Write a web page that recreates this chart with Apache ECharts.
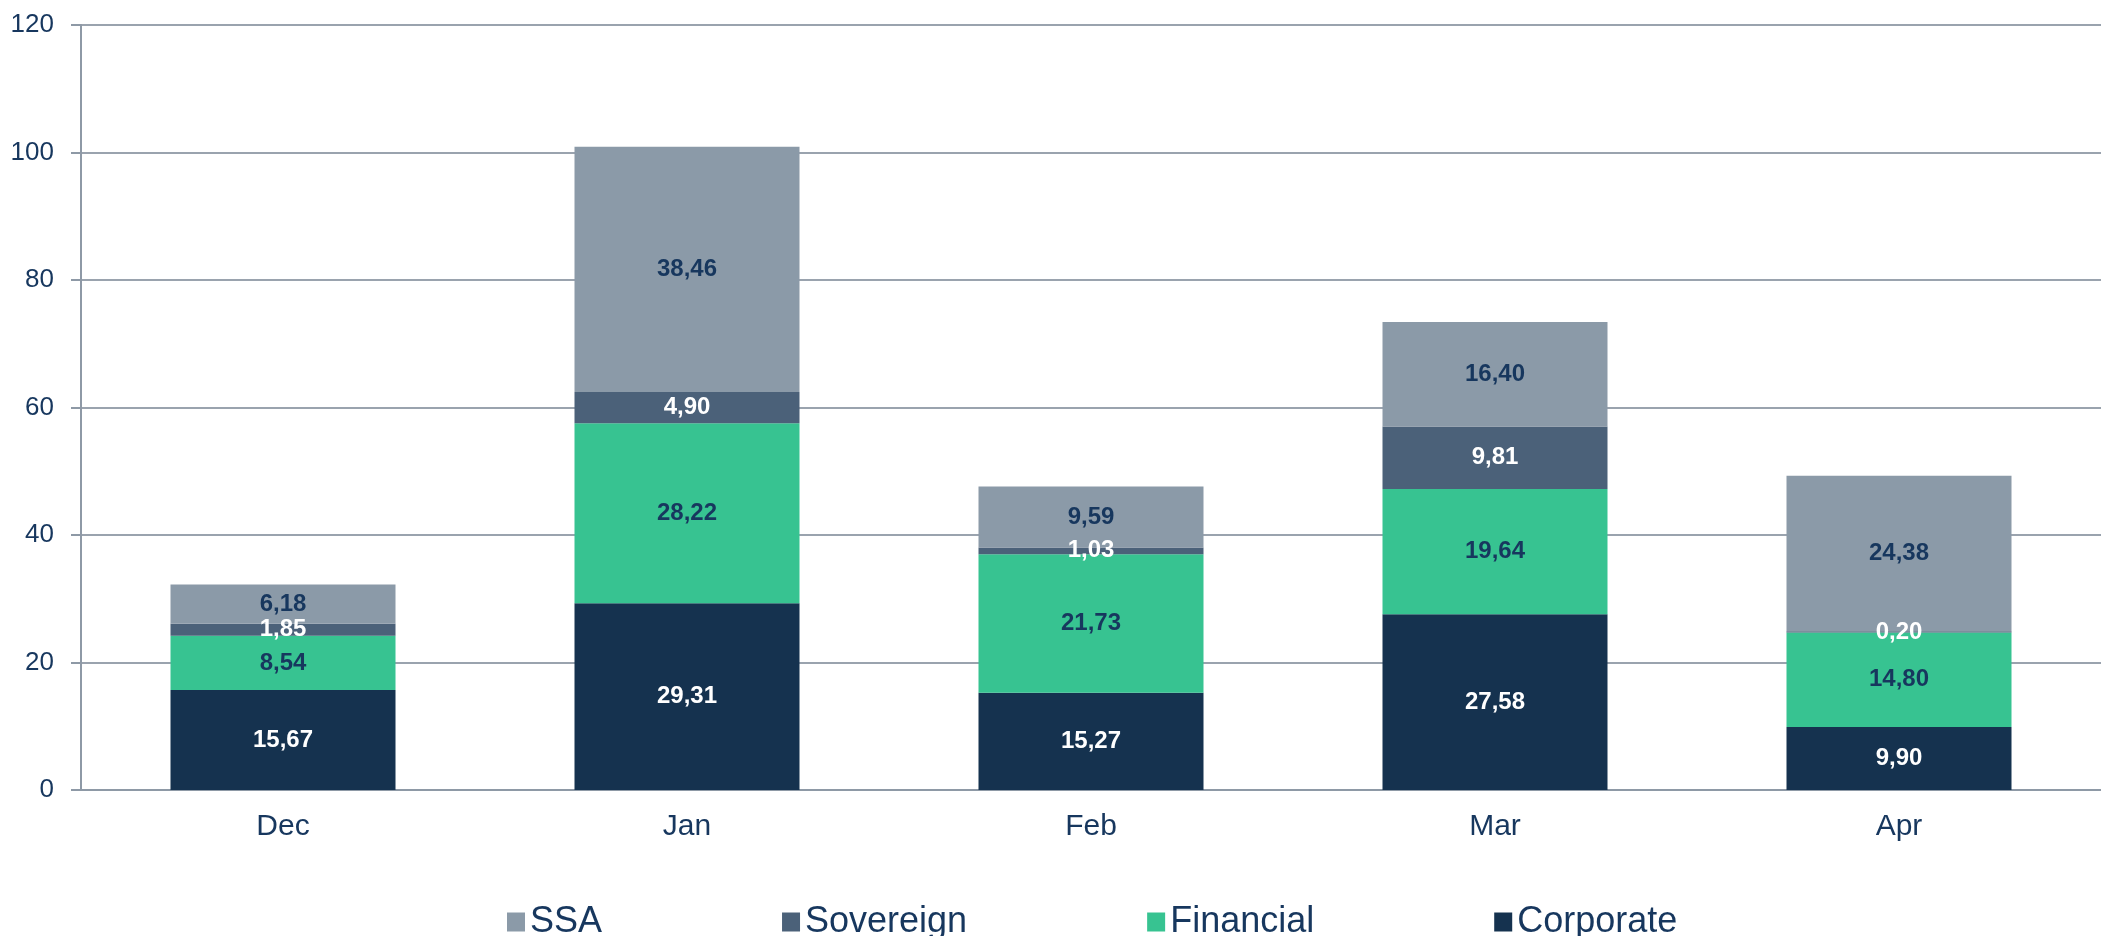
<!DOCTYPE html>
<html>
  <head>
    <meta charset="utf-8" />
    <title>Issuance by sector</title>
    <script src="https://cdn.jsdelivr.net/npm/echarts@6/dist/echarts.min.js"></script>
    <style>
      html, body { margin: 0; padding: 0; background: #fff; }
    </style>
  </head>
  <body>
    <div id="main" style="width: 2101px; height: 936px"></div>

    <script>
      // months on the x axis
      var months = ["Dec", "Jan", "Feb", "Mar", "Apr"];

      // values per sector (stacked, bottom to top)
      var corporate = [15.67, 29.31, 15.27, 27.58, 9.9];
      var financial = [8.54, 28.22, 21.73, 19.64, 14.8];
      var sovereign = [1.85, 4.9, 1.03, 9.81, 0.2];
      var ssa = [6.18, 38.46, 9.59, 16.4, 24.38];

      var legendOrder = ["SSA", "Sovereign", "Financial", "Corporate"];

      var navy = "#17375e";
      var font = "Arial, 'Liberation Sans', sans-serif";

      function fmt(p) {
        return p.value.toFixed(2).replace(".", ",");
      }

      function makeSeries(name, data, color, labelColor) {
        return {
          name: name,
          type: "bar",
          stack: "total",
          data: data,
          barWidth: 225,
          itemStyle: { color: color },
          label: {
            show: true,
            position: "inside",
            formatter: fmt,
            color: labelColor,
            fontSize: 24,
            fontWeight: "bold",
            fontFamily: font,
          },
        };
      }

      var chartDom = document.getElementById("main");
      var myChart = echarts.init(chartDom);

      var option = {
        backgroundColor: "#ffffff",
        animation: false,
        grid: {
          left: 81,
          top: 25,
          width: 2032,
          bottom: 146,
          containLabel: false,
        },
        legend: {
          data: legendOrder,
          left: 502,
          top: 899,
          itemWidth: 18,
          itemHeight: 19,
          itemGap: 180,
          icon: "rect",
          textStyle: { fontSize: 36, color: navy, fontFamily: font },
        },
        xAxis: {
          type: "category",
          data: months,
          axisLine: { lineStyle: { color: "#8e99a6", width: 2 } },
          axisTick: { show: false },
          axisLabel: {
            fontSize: 30,
            color: navy,
            fontFamily: font,
            margin: 22,
          },
        },
        yAxis: {
          type: "value",
          min: 0,
          max: 120,
          interval: 20,
          axisLine: { show: true, lineStyle: { color: "#8e99a6", width: 2 } },
          axisTick: {
            show: true,
            length: 10,
            lineStyle: { color: "#8e99a6", width: 2 },
          },
          splitLine: { lineStyle: { color: "#9aa3ae", width: 2 } },
          axisLabel: {
            fontSize: 26,
            color: navy,
            fontFamily: font,
            margin: 27,
          },
        },
        series: [
          makeSeries("Corporate", corporate, "#15324f", "#ffffff"),
          makeSeries("Financial", financial, "#37c391", navy),
          makeSeries("Sovereign", sovereign, "#4b6179", "#ffffff"),
          makeSeries("SSA", ssa, "#8b9aa8", navy),
        ],
      };

      myChart.setOption(option);
    </script>
  </body>
</html>
